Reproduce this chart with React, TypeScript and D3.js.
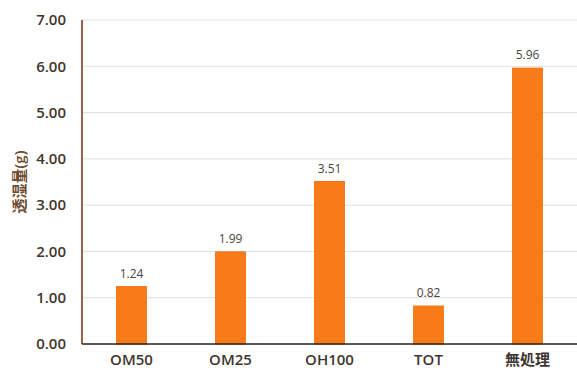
import React from "react";
import * as d3 from "d3";

// Moisture permeability per treatment
const categories = ["OM50", "OM25", "OH100", "TOT", "無処理"];
const values = [1.24, 1.99, 3.51, 0.82, 5.96];
const yTicks = [0, 1, 2, 3, 4, 5, 6, 7];
const yLabel = "透湿量(g)";

const W = 577;
const H = 373;
const margin = { top: 20, right: 0, bottom: 29, left: 82 };

export default function App() {
  const innerW = W - margin.left - margin.right;
  const innerH = H - margin.top - margin.bottom;

  const x = d3.scaleBand<string>().domain(categories).range([0, innerW]).paddingInner(0.7).paddingOuter(0.35);
  const y = d3.scaleLinear().domain([0, 7]).range([innerH, 0]);

  const font = "'Open Sans', 'Noto Sans CJK JP', sans-serif";

  return (
    <svg
      width={W}
      height={H}
      style={{ position: "absolute", left: 0, top: 0, background: "#fff" }}
      fontFamily={font}
    >
      <g transform={`translate(${margin.left},${margin.top})`}>
        {yTicks.map((t) => (
          <g key={t}>
            {t > 0 && (
              <line x1={0} x2={innerW} y1={y(t)} y2={y(t)} stroke="#e2e0de" strokeWidth={1} />
            )}
            <text
              x={-16}
              y={y(t)}
              dy="0.35em"
              textAnchor="end"
              fontSize={15}
              fontWeight={600}
              fill="#3f3530"
            >
              {t.toFixed(2)}
            </text>
          </g>
        ))}
        {values.map((v, i) => {
          const c = categories[i];
          const bx = x(c)!;
          const bw = x.bandwidth();
          return (
            <g key={c}>
              <rect
                x={bx}
                y={y(v)}
                width={bw}
                height={innerH - y(v)}
                fill="#f97b18"
                stroke="#ee7010"
                strokeWidth={1}
              />
              <text
                x={bx + bw / 2}
                y={y(v) - 13}
                dy="0.35em"
                textAnchor="middle"
                fontSize={12}
                fill="#4a4440"
              >
                {v.toFixed(2)}
              </text>
              <text
                x={bx + bw / 2}
                y={innerH + 16}
                dy="0.35em"
                textAnchor="middle"
                fontSize={15}
                fontWeight={600}
                fill="#3f3530"
              >
                {c}
              </text>
            </g>
          );
        })}
        <line x1={0} x2={innerW} y1={innerH} y2={innerH} stroke="#2b211c" strokeWidth={1.5} />
        <line x1={0} x2={0} y1={0} y2={innerH} stroke="#7a2e12" strokeWidth={1.5} />
        <text
          transform={`translate(${20 - margin.left},${innerH / 2}) rotate(-90)`}
          dy="0.35em"
          textAnchor="middle"
          fontSize={15}
          fontWeight={600}
          fill="#6e4a2e"
        >
          {yLabel}
        </text>
      </g>
    </svg>
  );
}
